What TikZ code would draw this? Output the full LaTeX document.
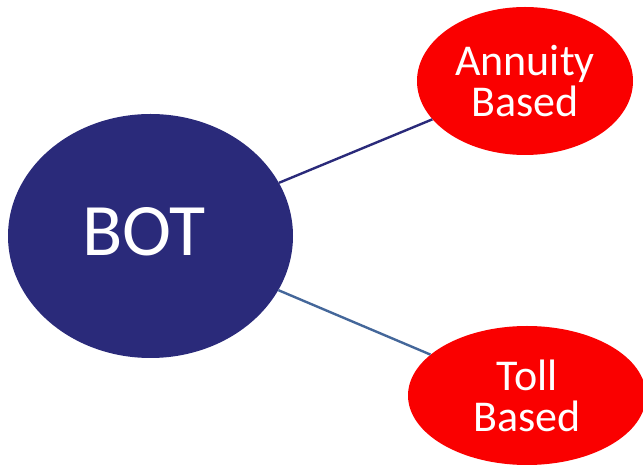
\documentclass[tikz,border=0pt]{standalone}
\usepackage{fontspec}
\setmainfont{Carlito}
\usetikzlibrary{shapes.geometric}
\definecolor{navy}{HTML}{2A2A7A}
\definecolor{redfill}{HTML}{FA0000}
\definecolor{steel}{HTML}{44679A}
\tikzset{
  hub/.style={ellipse, fill=navy, draw=none, inner sep=0pt,
    minimum width=285pt, minimum height=244pt},
  hubtext/.style={text=white, inner sep=0pt, font=\fontsize{74}{80}\selectfont},
  leaf/.style={ellipse, fill=redfill, draw=none, inner sep=0pt, text=white,
    align=center, font=\fontsize{44}{41}\selectfont},
  link/.style={line width=2.4pt}
}
\begin{document}
\begin{tikzpicture}[x=1pt,y=1pt]
\useasboundingbox (0,0) rectangle (643,466);
\node[hub] (bot) at (150.5,230) {};
\node[hubtext] (bottext) at ([xshift=-6.5pt,yshift=4.5pt]bot.center) {BOT};
\node[leaf, minimum width=216pt, minimum height=148pt] (ann) at (525,385) {Annuity\\Based};
\node[leaf, minimum width=238pt, minimum height=139pt] (toll) at (527,70.5) {Toll\\Based};
\draw[link, navy] (bot) -- (ann);
\draw[link, steel] (bot) -- (toll);
\end{tikzpicture}
\end{document}
